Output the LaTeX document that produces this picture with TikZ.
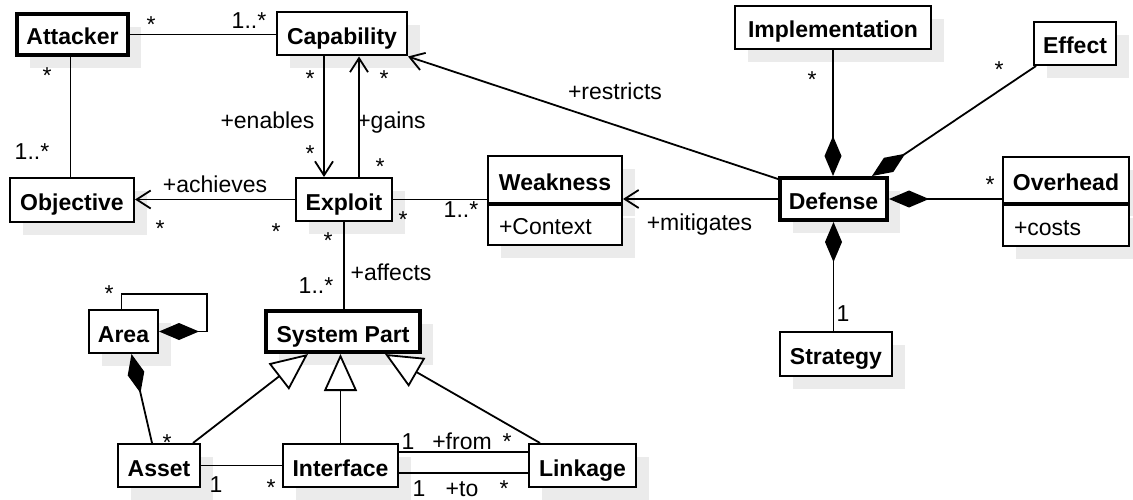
\documentclass[tikz,border=0pt]{standalone}
\usepackage{fontspec}
\setmainfont{Liberation Sans}
\usetikzlibrary{arrows.meta,shadows,calc}
\begin{document}
\begin{tikzpicture}[x=1pt,y=-1pt,
  every node/.style={font=\fontsize{23}{27}\selectfont},
  shd/.style={drop shadow={shadow xshift=13pt,shadow yshift=-13pt,fill=black!8,opacity=1}},
  cls/.style={draw,fill=white,line width=2pt,inner sep=0pt,text height=21pt,text depth=0pt,
    minimum height=43pt,font=\fontsize{23}{27}\selectfont\bfseries,shd},
  heavy/.style={cls,line width=4pt,minimum height=41pt},
  attr/.style={draw,fill=white,line width=2pt,inner ysep=0pt,inner xsep=11pt,text height=20pt,
    text depth=0pt,minimum height=40.5pt,align=left,anchor=north,shd},
  lbl/.style={anchor=base,inner sep=0pt},
  con/.style={line width=1.8pt},
  nav/.style={con,-{Straight Barb[length=14pt,width=18pt]}},
  comp/.style={con,-{Diamond[length=40pt,width=17pt]}},
  gen/.style={con,-{Triangle[length=37pt,width=33pt,fill=white]}}
]
\useasboundingbox (0,0) rectangle (1133,500);

% classes
\node[heavy,minimum width=111pt] (att) at (72.5,34.5) {Attacker};
\node[cls,minimum width=130pt] (cap) at (342,34) {Capability};
\node[cls,minimum width=124pt] (obj) at (72,200) {Objective};
\node[cls,minimum width=96pt] (ex) at (344,199.5) {Exploit};
\node[cls,minimum width=134pt,minimum height=46pt] (weak) at (555,179.5) {Weakness};
\node[attr,text width=112pt] (weakA) at (weak.south) {+Context};
\node[cls,minimum width=196pt] (impl) at (833,27.5) {Implementation};
\node[cls,minimum width=82pt] (eff) at (1075,43.5) {Effect};
\node[heavy,minimum width=107pt,minimum height=42pt] (def) at (833.5,199) {Defense};
\node[cls,minimum width=126pt,minimum height=46pt] (ovh) at (1066,180) {Overhead};
\node[attr,text width=104pt] (ovhA) at (ovh.south) {+costs};
\node[cls,minimum width=112pt,minimum height=44pt] (strat) at (836,354) {Strategy};
\node[cls,minimum width=69pt] (area) at (123.5,331.5) {Area};
\node[heavy,minimum width=154pt] (sp) at (343,331.5) {System Part};
\node[cls,minimum width=82pt] (asset) at (159,465.5) {Asset};
\node[cls,minimum width=115pt] (intf) at (340.5,465.5) {Interface};
\node[cls,minimum width=107pt] (link) at (582.5,465.5) {Linkage};

% connectors
\draw[con] (att.east) -- (att.east -| cap.west);
\draw[con] ([xshift=-2pt]att.south) -- ([xshift=-2pt]att.south |- obj.north);
\draw[nav] ([xshift=-18pt]cap.south) -- ([xshift=-18pt]cap.south |- ex.north);
\draw[nav] ([xshift=15pt]ex.north) -- ([xshift=15pt]ex.north |- cap.south);
\draw[nav] (ex.west) -- (ex.west -| obj.east);
\draw[con] (ex.east) -- (ex.east -| weak.west);
\draw[con] (ex.south) -- (ex.south |- sp.north);
\draw[nav] (def.west) -- (def.west -| weak.east);
\draw[nav] ([yshift=-3pt]def.north west) -- (cap.south east);
\draw[comp] (impl.south) -- (impl.south |- def.north);
\draw[comp] ([xshift=3pt]eff.south west) -- ([xshift=-17pt]def.north east);
\draw[comp] (def.east -| ovh.west) -- (def.east);
\draw[comp] (strat.north -| def.south) -- (def.south);
\coordinate (loop) at (207,294);
\draw[comp] ([xshift=-2pt]area.north) |- (loop) |- (area.east);
\draw[comp] ([xshift=-7pt]asset.north) -- ([xshift=8pt]area.south);
\draw[gen] ([xshift=-8pt]asset.north east) -- ([xshift=-35pt]sp.south);
\draw[gen] (intf.north) -- (intf.north |- sp.south);
\draw[gen] ([xshift=12pt]link.north west) -- ([xshift=42pt]sp.south);
\draw[con] (asset.east) -- (intf.west);
\draw[con] ([yshift=13.5pt]intf.east) -- ([yshift=13.5pt]intf.east -| link.west);
\draw[con] ([yshift=-7.5pt]intf.east) -- ([yshift=-7.5pt]intf.east -| link.west);

% labels
\node[lbl] (m1) at (151,33) {*};
\node[lbl] (m2) at (249,29) {1..*};
\node[lbl] (m3) at (47,84) {*};
\node[lbl] (m4) at (32,160) {1..*};
\node[lbl] (m5) at (310,87) {*};
\node[lbl] (m6) at (267.5,129) {+enables};
\node[lbl] (m7) at (310,162) {*};
\node[lbl] (m8) at (384,87) {*};
\node[lbl] (m9) at (391.5,129) {+gains};
\node[lbl] (m10) at (380,175) {*};
\node[lbl] (m11) at (215,193) {+achieves};
\node[lbl] (m12) at (160,236) {*};
\node[lbl] (m13) at (276,239) {*};
\node[lbl] (m14) at (403,227) {*};
\node[lbl] (m15) at (461,218) {1..*};
\node[lbl] (m16) at (328,248) {*};
\node[lbl] (m17) at (391,280) {+affects};
\node[lbl] (m18) at (316,293) {1..*};
\node[lbl] (m19) at (615,100) {+restricts};
\node[lbl] (m20) at (699.5,230) {+mitigates};
\node[lbl] (m21) at (812,88) {*};
\node[lbl] (m22) at (999,78) {*};
\node[lbl] (m23) at (990,193) {*};
\node[lbl] (m24) at (843,321) {1};
\node[lbl] (m25) at (109,301) {*};
\node[lbl] (m26) at (167,450) {*};
\node[lbl] (m27) at (216,492) {1};
\node[lbl] (m28) at (271,495) {*};
\node[lbl] (m29) at (408,449) {1};
\node[lbl] (m30) at (462,449) {+from};
\node[lbl] (m31) at (507,449) {*};
\node[lbl] (m32) at (419,496) {1};
\node[lbl] (m33) at (462,496) {+to};
\node[lbl] (m34) at (504,496) {*};
\end{tikzpicture}
\end{document}
